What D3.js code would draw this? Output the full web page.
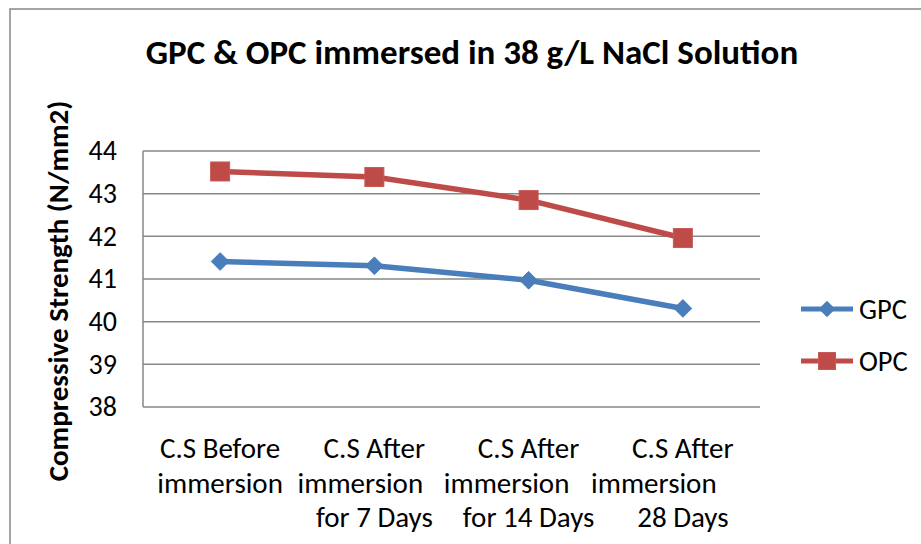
<!DOCTYPE html>
<html>
<head>
<meta charset="utf-8">
<script src="https://cdn.jsdelivr.net/npm/d3@7"></script>
<style>
  html, body { margin: 0; padding: 0; background: #fff; }
  svg { display: block; font-family: Carlito, Calibri, Lato, "Open Sans", sans-serif; }
</style>
</head>
<body>
<svg id="chart" width="921" height="544"></svg>
<script>
const categories = [
  ["C.S Before", "immersion"],
  ["C.S After", "immersion", "for 7 Days"],
  ["C.S After", "immersion", "for 14 Days"],
  ["C.S After", "immersion", "28 Days"]
];
const gpcValues = [41.41, 41.31, 40.97, 40.31];
const opcValues = [43.52, 43.39, 42.85, 41.96];
const yTicks = [38, 39, 40, 41, 42, 43, 44];
const seriesNames = ["GPC", "OPC"];
const colors = ["#4a7ebb", "#be4b48"];

const svg = d3.select("#chart");
const plot = { left: 143, right: 760, top: 151, bottom: 407 };
const FONT = "Carlito, Calibri, Lato, sans-serif";

// outer border
svg.append("rect").attr("x", 10).attr("y", 9).attr("width", 930).attr("height", 560)
  .attr("fill", "none").attr("stroke", "#878787").attr("stroke-width", 1.5);

const x = d3.scaleBand().domain(d3.range(categories.length))
  .range([plot.left, plot.right]).padding(0);
const y = d3.scaleLinear().domain([38, 44]).range([plot.bottom, plot.top]);

// gridlines
svg.append("g").selectAll("line").data(yTicks).join("line")
  .attr("x1", plot.left).attr("x2", plot.right)
  .attr("y1", d => y(d)).attr("y2", d => y(d))
  .attr("stroke", "#878787").attr("stroke-width", 1.5);
// left axis line
svg.append("line").attr("x1", plot.left).attr("x2", plot.left)
  .attr("y1", plot.top).attr("y2", plot.bottom)
  .attr("stroke", "#878787").attr("stroke-width", 1.5);

// y tick labels
const yAxis = d3.axisLeft(y).tickValues(yTicks).tickFormat(d3.format("d")).tickSize(0).tickPadding(26);
const ga = svg.append("g").attr("transform", `translate(${plot.left},0)`).call(yAxis);
ga.select(".domain").remove();
ga.selectAll("text").attr("font-size", 28).attr("fill", "#000").attr("font-family", FONT);

// x labels (wrapped lines; the middle line of the later labels sits a bit left, as in the source)
const wrapShift = [[0, 0], [0, -14, 0], [0, -22, 0], [0, -29, 0]];
const xl = svg.append("g").selectAll("text").data(categories).join("text")
  .attr("text-anchor", "middle").attr("font-size", 29).attr("fill", "#000")
  .attr("transform", (d, i) => `translate(${x(i) + x.bandwidth() / 2},0)`);
xl.each(function(lines, i) {
  d3.select(this).selectAll("tspan").data(lines).join("tspan")
    .attr("x", (d, j) => wrapShift[i][j]).attr("y", (d, j) => 458 + j * 34.5).text(d => d);
});

// lines
const allSeries = [gpcValues, opcValues];
const line = d3.line().x((d, i) => x(i) + x.bandwidth() / 2).y(d => y(d));
allSeries.forEach((vals, s) => {
  svg.append("path").datum(vals).attr("d", line)
    .attr("fill", "none").attr("stroke", colors[s]).attr("stroke-width", 5.5)
    .attr("stroke-linejoin", "round");
});
function marker(g, s, cx, cy, big) {
  if (s === 0) {
    g.append("path").attr("d", d3.symbol(d3.symbolDiamond2, big ? 200 : 150)())
      .attr("transform", `translate(${cx},${cy})`)
      .attr("fill", colors[s]).attr("stroke", colors[s]).attr("stroke-width", 1);
  } else {
    const h = big ? 9.5 : 8.5;
    g.append("rect").attr("x", cx - h).attr("y", cy - h).attr("width", 2 * h).attr("height", 2 * h)
      .attr("fill", colors[s]).attr("stroke", "#c65a57").attr("stroke-width", 1);
  }
}
allSeries.forEach((vals, s) => {
  const g = svg.append("g");
  vals.forEach((v, i) => marker(g, s, x(i) + x.bandwidth() / 2, y(v), true));
});

// legend
const legY = [309, 361];
seriesNames.forEach((n, s) => {
  const g = svg.append("g");
  g.append("line").attr("x1", 801).attr("x2", 853).attr("y1", legY[s]).attr("y2", legY[s])
    .attr("stroke", colors[s]).attr("stroke-width", 5);
  marker(g, s, 827, legY[s], false);
  g.append("text").attr("x", 859).attr("y", legY[s]).attr("dy", "0.35em")
    .attr("font-size", 28.5).attr("fill", "#000").text(n);
});

// title
svg.append("text").attr("x", 472).attr("y", 64).attr("text-anchor", "middle")
  .attr("font-size", 35).attr("font-weight", "bold").attr("fill", "#000")
  .text("GPC & OPC immersed in 38 g/L NaCl Solution");

// y axis title
svg.append("text").attr("transform", "translate(68,291) rotate(-90)")
  .attr("text-anchor", "middle").attr("font-size", 29).attr("font-weight", "bold")
  .attr("fill", "#000").text("Compressive Strength (N/mm2)");
</script>
</body>
</html>
